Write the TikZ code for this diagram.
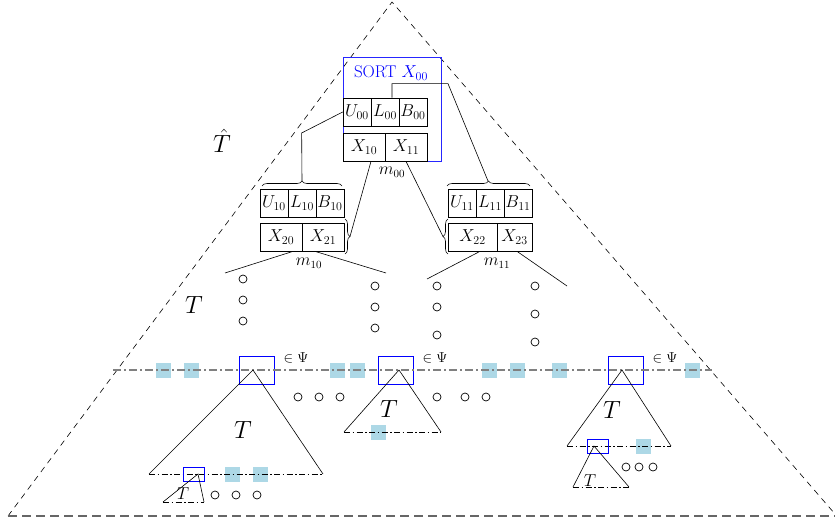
\documentclass[tikz,border=0pt]{standalone}
\usepackage{tikz}
\usetikzlibrary{calc,decorations.pathreplacing}
\definecolor{leafblue}{RGB}{173,216,230}
\def\fs#1{\fontsize{#1}{#1}\selectfont}
\tikzset{
	cell/.style={draw, line width=0.7pt, inner sep=0pt, minimum height=28pt, font=\fs{18}},
	leaf/.style={fill=leafblue, inner sep=0pt, minimum size=15pt},
	ring/.style={circle, draw, line width=0.7pt, inner sep=0pt, minimum size=8pt},
	psibox/.style={draw=blue, line width=0.8pt, inner sep=0pt, minimum width=35pt, minimum height=28pt},
	cutbox/.style={draw=blue, line width=0.8pt, inner sep=0pt, minimum width=21pt, minimum height=14pt},
	brc/.style={decorate, decoration={brace, amplitude=5pt}, line width=0.6pt},
	psiline/.style={gray, line width=1.3pt, dash pattern=on 8pt off 3pt on 2pt off 3pt},
	tbase/.style={line width=0.6pt, dash pattern=on 6pt off 2.5pt on 1.5pt off 2.5pt},
	mlbl/.style={font=\fs{16}},
	inlbl/.style={font=\fs{15}},
}

\begin{document}
\begin{tikzpicture}[x=1pt, y=-1pt, line width=0.6pt]
	%%%%% START %%%%%
	\useasboundingbox (0,0) rectangle (835,525);
	
	\draw[dash pattern=on 6pt off 5pt] (8,516) -- (392,2) -- (835,514);
	\draw[gray!80!black, line width=1.3pt, dash pattern=on 9pt off 5pt] (8,516) -- (835,516);
	
	\node[font=\fs{24}] (that) at (222,141) {$\hat{T}$};
	\node[font=\fs{24}] (ttop) at (194,305) {$T$};
	
	% root
	\node[draw=blue!85!white, line width=1pt, inner sep=0pt, minimum width=98pt, minimum height=104pt] (sort) at (392,109) {};
	\node[text=blue, font=\fs{17}] (sortlbl) at (391,73) {SORT $X_{00}$};
	\node[cell, minimum width=28pt] (u00) at (357,112) {$U_{00}$};
	\node[cell, minimum width=28pt] (l00) at (385,112) {$L_{00}$};
	\node[cell, minimum width=28pt] (b00) at (413,112) {$B_{00}$};
	\node[cell, minimum width=42pt] (x10) at (364,147) {$X_{10}$};
	\node[cell, minimum width=42pt] (x11) at (406,147) {$X_{11}$};
	\node[mlbl] (m00) at (392,172) {$m_{00}$};
	
	% left child
	\node[cell, minimum width=28pt] (u10) at (274,203) {$U_{10}$};
	\node[cell, minimum width=28pt] (l10) at (302,203) {$L_{10}$};
	\node[cell, minimum width=28pt] (b10) at (330,203) {$B_{10}$};
	\node[cell, minimum width=42pt] (x20) at (281,237) {$X_{20}$};
	\node[cell, minimum width=42pt] (x21) at (323,237) {$X_{21}$};
	\node[mlbl] (m10) at (309,263) {$m_{10}$};
	
	% right child
	\node[cell, minimum width=28pt] (u11) at (462,203) {$U_{11}$};
	\node[cell, minimum width=28pt] (l11) at (490,203) {$L_{11}$};
	\node[cell, minimum width=28pt] (b11) at (518,203) {$B_{11}$};
	\node[cell, minimum width=49pt] (x22) at (472.5,237) {$X_{22}$};
	\node[cell, minimum width=35pt] (x23) at (514.5,237) {$X_{23}$};
	\node[mlbl] (m11) at (497,263) {$m_{11}$};
	
	\draw[brc] (262,186) -- (342,186);
	\draw[brc] (447,186) -- (530,186);
	\draw[brc] (345,219) -- (345,254);
	\draw[brc] (448,254) -- (448,219);
	\coordinate (t10) at (302,181);
	\coordinate (t11) at (488,181);
	\coordinate (r21) at (350,236.5);
	\coordinate (l22) at (443,236.5);
	
	\draw (u00.west) -- ++(-41,21) -- (t10);
	\draw ([xshift=7pt]l00.north) -- ++(0,-14) -- ++(56,0) -- (t11);
	\draw ([xshift=7pt]x10.south) -- (r21);
	\draw (x11.south) -- (l22);
	
	\coordinate (e1) at (225,273);
	\coordinate (e2) at (386,273);
	\coordinate (e3) at (427,279);
	\coordinate (e4) at (567,286);
	\draw ([xshift=12pt]x20.south) -- (e1);
	\draw ([xshift=-8pt]x21.south) -- (e2);
	\draw ([xshift=7.5pt]x22.south) -- (e3);
	\draw ([xshift=2.5pt]x23.south) -- (e4);
	
	\foreach \y [count=\i] in {279,300,321} \node[ring] (ca\i) at (243,\y) {};
	\foreach \y [count=\i] in {286,307,328} \node[ring] (cb\i) at (375,\y) {};
	\foreach \y [count=\i] in {286,307,335} \node[ring] (cc\i) at (437,\y) {};
	\foreach \y [count=\i] in {286,314,342} \node[ring] (cd\i) at (535,\y) {};
	
	% Psi level
	\foreach \x [count=\i] in {163,191,337,357,489,517,559,692} \node[leaf] (lf\i) at (\x,370) {};
	\node[psibox] (psa) at (256.5,370) {};
	\node[psibox] (psb) at (395.5,370) {};
	\node[psibox] (psc) at (625.5,370) {};
	\draw[psiline] (113,370) -- (712,370);
	\node[inlbl] (ina) at (296,358) {$\in\Psi$};
	\node[inlbl] (inb) at (435,358) {$\in\Psi$};
	\node[inlbl] (inc) at (665,358) {$\in\Psi$};
	
	\foreach \x [count=\i] in {298,319,340,437,465,486} \node[ring] (cm\i) at (\x,397) {};
	
	% left subtree
	\node[leaf] (lfa1) at (232,474) {};
	\node[leaf] (lfa2) at (260,474) {};
	\draw (149,474) -- (253,370) -- (323,474);
	\draw[tbase] (149,474) -- (323,474);
	\node[font=\fs{24}] (ta) at (243,430) {$T$};
	\node[cutbox] (cta) at (194,474) {};
	\draw (163,502) -- (198,474) -- (204,502);
	\draw[tbase] (163,502) -- (204,502);
	\node[font=\fs{16}] (tsa) at (183,494) {$T$};
	\foreach \x [count=\i] in {215,236,257} \node[ring] (csa\i) at (\x,495) {};
	
	% middle subtree
	\node[leaf] (lfb1) at (378,432) {};
	\draw (344,432) -- (399,370) -- (441,432);
	\draw[tbase] (344,432) -- (441,432);
	\node[font=\fs{24}] (tb) at (389,409) {$T$};
	
	% right subtree
	\node[leaf] (lfc1) at (643,446) {};
	\draw (567,446) -- (622,370) -- (671,446);
	\draw[tbase] (567,446) -- (671,446);
	\node[font=\fs{24}] (tc) at (612,410) {$T$};
	\node[cutbox] (ctc) at (597.5,446) {};
	\draw (573,487) -- (594,446) -- (629,487);
	\draw[tbase] (573,487) -- (629,487);
	\node[font=\fs{16}] (tsc) at (590,481) {$T$};
	\foreach \x [count=\i] in {626,639,653} \node[ring] (csc\i) at (\x,467) {};
	
	%%%%% END %%%%%
\end{tikzpicture}
\end{document}
